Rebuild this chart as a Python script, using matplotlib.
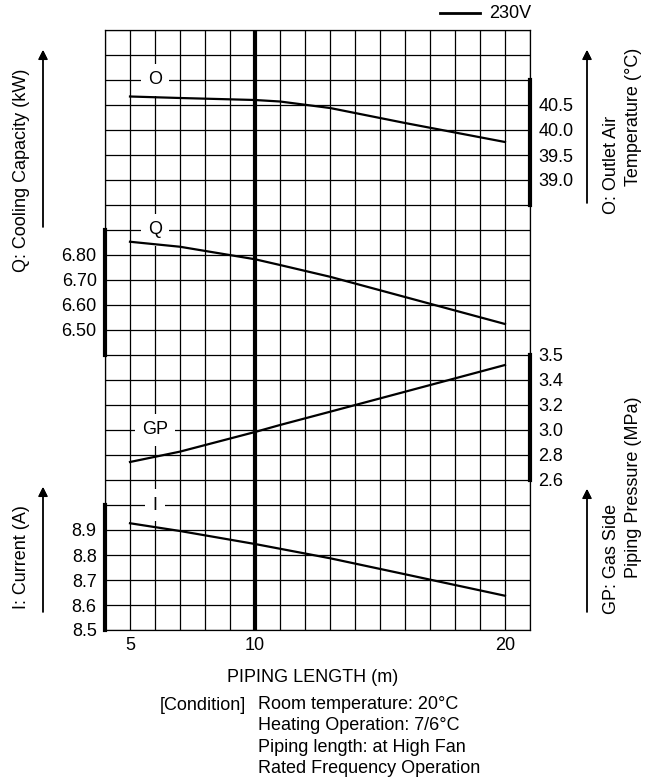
import matplotlib.pyplot as plt

plt.rcParams['font.family'] = ['Liberation Sans', 'DejaVu Sans']
plt.rcParams['font.size'] = 13

# piping length (m) and the four read-off curves
length = [5, 7, 10, 11, 13, 16, 20]
outlet_temp = [40.67, 40.64, 40.60, 40.57, 40.44, 40.14, 39.76]   # O (deg C)
capacity = [6.853, 6.833, 6.783, 6.760, 6.713, 6.632, 6.524]      # Q (kW)
gas_pressure = [2.744, 2.827, 2.984, 3.04, 3.146, 3.306, 3.52]    # GP (MPa)
current = [8.927, 8.896, 8.844, 8.825, 8.787, 8.723, 8.637]       # I (A)

x_ticks = [5, 10, 20]
o_ticks = [39.0, 39.5, 40.0, 40.5]
q_ticks = [6.50, 6.60, 6.70, 6.80]
gp_ticks = [2.6, 2.8, 3.0, 3.2, 3.4, 3.6]
gp_labels = ['2.6', '2.8', '3.0', '3.2', '3.4', '3.5']
i_ticks = [8.5, 8.6, 8.7, 8.8, 8.9]

fig = plt.figure(figsize=(6.6, 7.82), dpi=100)
ax = fig.add_axes([105 / 660, 1 - 630 / 782, 425 / 660, 600 / 782])
ax.set_xlim(4, 21)
ax.set_ylim(0, 24)
ax.set_xticks(range(4, 22), minor=True)
ax.set_yticks(range(0, 25), minor=True)
ax.set_xticks(x_ticks)
ax.set_yticks([])
ax.grid(which='both', axis='both', color='black', lw=0.9)
ax.tick_params(which='both', length=0, pad=5)
ax.tick_params(axis='y', which='both', labelleft=False)
for s in ax.spines.values():
    s.set_linewidth(0.9)
ax.axvline(10, color='black', lw=3)


def series_axis(lo, hi, side, ticks, labels, bar):
    tw = ax.twinx()
    tw.set_ylim(lo, hi)
    for s in tw.spines.values():
        s.set_visible(False)
    sp = tw.spines[side]
    sp.set_visible(True)
    sp.set_linewidth(3)
    sp.set_bounds(*bar)
    if side == 'left':
        tw.yaxis.tick_left()
    else:
        tw.yaxis.tick_right()
    tw.set_yticks(ticks, labels)
    tw.tick_params(axis='y', length=0, pad=6)
    return tw


ax_o = series_axis(30.0, 42.0, 'right', o_ticks, ['39.0', '39.5', '40.0', '40.5'], (38.5, 41.0))
ax_q = series_axis(5.30, 7.70, 'left', q_ticks, ['6.50', '6.60', '6.70', '6.80'], (6.40, 6.90))
ax_gp = series_axis(1.4, 6.2, 'right', gp_ticks, gp_labels, (2.6, 3.6))
ax_i = series_axis(8.5, 10.9, 'left', i_ticks, ['8.5', '8.6', '8.7', '8.8', '8.9'], (8.5, 9.0))

ax_o.plot(length, outlet_temp, color='black', lw=1.6)
ax_q.plot(length, capacity, color='black', lw=1.6)
ax_gp.plot(length, gas_pressure, color='black', lw=1.6)
ax_i.plot(length, current, color='black', lw=1.6)

# curve names sitting on the grid with a white gap
for name, row in [('O', 22), ('Q', 16), ('GP', 8), ('I', 5)]:
    ax.text(6, row, name, ha='center', va='center', zorder=5,
            bbox=dict(boxstyle='square,pad=0.4', fc='white', ec='none'))

# axis titles and arrows
def arrow(x, y0, y1):
    fig.add_artist(plt.annotate('', xy=(x, 782 - y1), xytext=(x, 782 - y0),
                                xycoords='figure pixels', textcoords='figure pixels',
                                arrowprops=dict(arrowstyle='-|>', color='black', lw=1,
                                                mutation_scale=14, shrinkA=0, shrinkB=0)))


arrow(43, 227, 50)
arrow(43, 612, 487)
arrow(587, 203, 50)
arrow(587, 612, 489)

fig.text(22 / 660, 1 - 170 / 782, 'Q: Cooling Capacity (kW)', rotation=90, ha='center', va='center')
fig.text(22 / 660, 1 - 557 / 782, 'I: Current (A)', rotation=90, ha='center', va='center')
fig.text(611 / 660, 1 - 165 / 782, 'O: Outlet Air', rotation=90, ha='center', va='center')
fig.text(634 / 660, 1 - 117 / 782, 'Temperature (°C)', rotation=90, ha='center', va='center')
fig.text(611 / 660, 1 - 559 / 782, 'GP: Gas Side', rotation=90, ha='center', va='center')
fig.text(634 / 660, 1 - 487 / 782, 'Piping Pressure (MPa)', rotation=90, ha='center', va='center')

# legend
fig.add_artist(plt.Line2D([440 / 660, 480 / 660], [1 - 13 / 782, 1 - 13 / 782], color='black', lw=2))
fig.text(489 / 660, 1 - 13 / 782, '230V', ha='left', va='center')

fig.text(313 / 660, 1 - 678 / 782, 'PIPING LENGTH (m)', ha='center', va='center')
fig.text(160 / 660, 1 - 705 / 782, '[Condition]', ha='left', va='center')
fig.text(258 / 660, 1 - 696 / 782,
         'Room temperature: 20°C\nHeating Operation: 7/6°C\nPiping length: at High Fan\nRated Frequency Operation',
         ha='left', va='top', linespacing=1.34)

fig.savefig('out.png', dpi=100)
